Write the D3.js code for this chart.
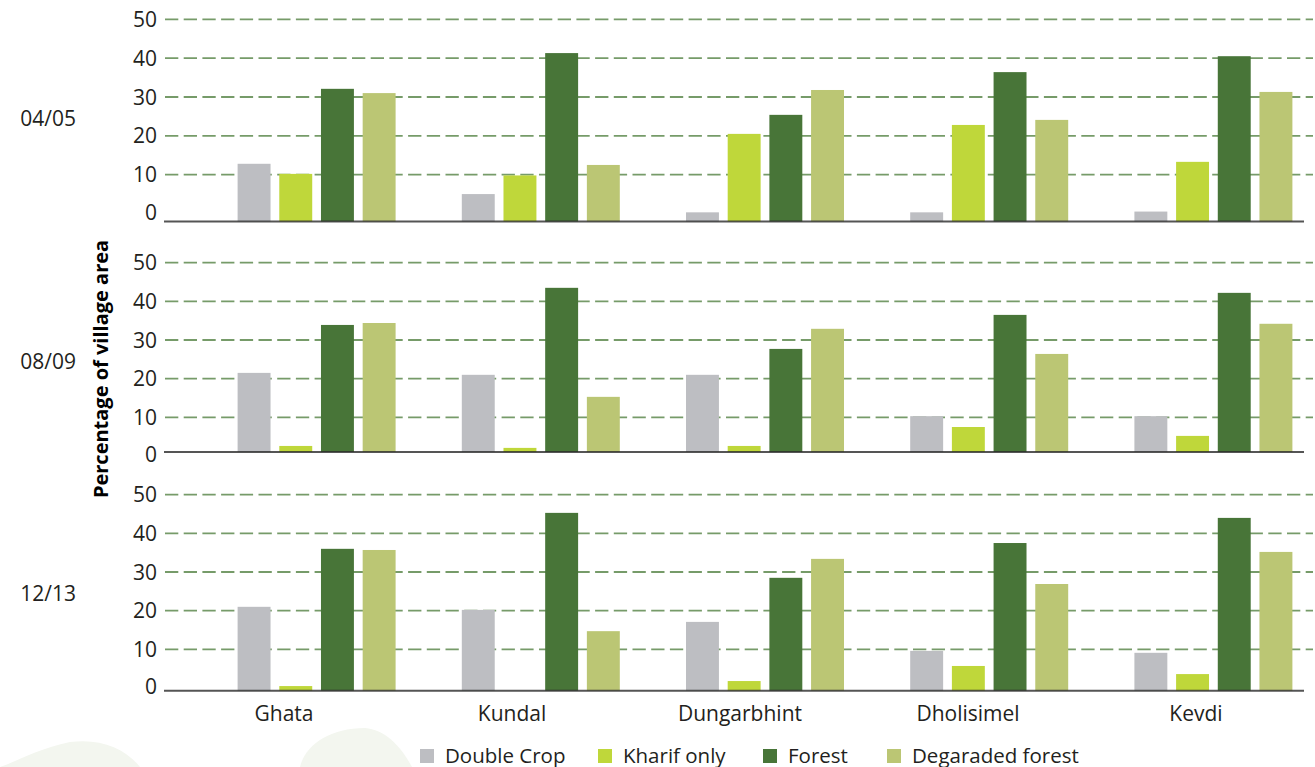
<!DOCTYPE html>
<html><head><meta charset="utf-8">
<script src="https://cdn.jsdelivr.net/npm/d3@7"></script>
<style>
body{margin:0;background:#fff;}
svg{display:block;font-family:'Open Sans',sans-serif;}
</style>
</head><body>
<svg id="chart" width="1315" height="767"></svg>
<script>
// ---- data ----
const villages = ["Ghata", "Kundal", "Dungarbhint", "Dholisimel", "Kevdi"];
const seriesNames = ["Double Crop", "Kharif only", "Forest", "Degaraded forest"];
const periods = ["04/05", "08/09", "12/13"];
const yTicks = [0, 10, 20, 30, 40, 50];

const doubleCrop0405 = [12.8, 5.0, 0.3, 0.3, 0.5];
const kharifOnly0405 = [10.2, 9.8, 20.5, 22.8, 13.3];
const forest0405     = [32.1, 41.3, 25.4, 36.4, 40.5];
const degraded0405   = [31.0, 12.5, 31.8, 24.1, 31.3];

const doubleCrop0809 = [21.5, 21.0, 21.0, 10.3, 10.3];
const kharifOnly0809 = [2.6, 2.1, 2.6, 7.5, 5.2];
const forest0809     = [33.9, 43.5, 27.7, 36.5, 42.2];
const degraded0809   = [34.4, 15.3, 32.9, 26.4, 34.2];

const doubleCrop1213 = [21.0, 20.2, 17.1, 9.6, 9.1];
const kharifOnly1213 = [0.5, 0, 1.8, 5.7, 3.6];
const forest1213     = [36.0, 45.3, 28.5, 37.5, 44.0];
const degraded1213   = [35.7, 14.7, 33.4, 26.9, 35.2];

const panelSeries = [
  [doubleCrop0405, kharifOnly0405, forest0405, degraded0405],
  [doubleCrop0809, kharifOnly0809, forest0809, degraded0809],
  [doubleCrop1213, kharifOnly1213, forest1213, degraded1213]
];

// ---- style / layout ----
const colors = ["#bdbec2", "#bfd73a", "#487538", "#bbc674"];
const panelLayout = [
  {zero: 213.5, top: 19.3, base: 221.5},
  {zero: 456.0, top: 262.7, base: 452.0},
  {zero: 688.0, top: 494.7, base: 690.7}
];
const legendX = [420, 598, 763, 887];
const textColor = "#231f20";

const svg = d3.select("#chart");

// faint decorative leaves at bottom-left
const bg = svg.append("g").attr("fill", "#f3f6ef");
bg.append("path").attr("d", "M0,767 C20,760 40,748 70,742 C100,738 125,748 140,767 Z");
bg.append("path").attr("d", "M300,767 C305,745 330,728 365,728 C385,730 400,745 412,767 Z");

const x0 = d3.scaleBand().domain(villages).range([204.5, 1325.5]);
const innerW = 158;
const x1 = d3.scaleBand().domain(seriesNames).range([0, innerW]).paddingInner(0.21).paddingOuter(0);
const xLabel = d3.scaleBand().domain(villages).range([170, 1310]);

const gridX0 = 165, gridX1 = 1313, baseX0 = 164, baseX1 = 1304;

panelLayout.forEach((p, pi) => {
  const y = d3.scaleLinear().domain([0, 50]).range([p.zero, p.top]);
  const g = svg.append("g");

  // gridlines
  g.append("g").selectAll("line").data(yTicks.filter(t => t > 0)).join("line")
    .attr("x1", gridX0).attr("x2", gridX1)
    .attr("y1", d => y(d)).attr("y2", d => y(d))
    .attr("stroke", "#5f8a4f").attr("stroke-width", 1.8)
    .attr("stroke-dasharray", "13.3 5.4").attr("opacity", 0.85);

  // tick labels
  g.append("g").selectAll("text").data(yTicks).join("text")
    .attr("x", 157).attr("y", d => d === 0 ? y(d) - 1.5 : y(d)).attr("dy", "0.36em")
    .attr("text-anchor", "end").attr("font-size", 21).attr("fill", textColor)
    .text(d => d);

  // panel label
  g.append("text").attr("x", 76).attr("y", y(25) + 2).attr("dy", "0.36em")
    .attr("text-anchor", "end").attr("font-size", 21).attr("fill", textColor)
    .text(periods[pi]);

  // bars
  const data = [];
  villages.forEach((v, vi) => {
    seriesNames.forEach((s, si) => {
      data.push({village: v, series: s, si: si, value: panelSeries[pi][si][vi]});
    });
  });
  g.append("g").selectAll("rect").data(data.filter(d => d.value > 0)).join("rect")
    .attr("x", d => x0(d.village) + (x0.bandwidth() - innerW) / 2 + x1(d.series))
    .attr("width", x1.bandwidth())
    .attr("y", d => Math.min(y(d.value), p.base - 2))
    .attr("height", d => Math.max(2, p.base - y(d.value)))
    .attr("fill", d => colors[d.si]);

  // baseline
  g.append("line").attr("x1", baseX0).attr("x2", baseX1)
    .attr("y1", p.base).attr("y2", p.base)
    .attr("stroke", "#2b2b2b").attr("stroke-width", 2).attr("opacity", 0.8);
});

// category labels
svg.append("g").selectAll("text").data(villages).join("text")
  .attr("x", d => xLabel(d) + xLabel.bandwidth() / 2).attr("y", 721)
  .attr("text-anchor", "middle").attr("font-size", 21).attr("fill", textColor)
  .text(d => d);

// y-axis title
svg.append("text")
  .attr("transform", "translate(108,369) rotate(-90)")
  .attr("text-anchor", "middle").attr("font-size", 20).attr("font-weight", 700)
  .attr("fill", "#000")
  .text("Percentage of village area");

// legend
const lg = svg.append("g").selectAll("g").data(seriesNames).join("g")
  .attr("transform", (d, i) => `translate(${legendX[i]},749)`);
lg.append("rect").attr("width", 14).attr("height", 14).attr("fill", (d, i) => colors[i]);
lg.append("text").attr("x", 25).attr("y", 13.5).attr("font-size", 20.5).attr("fill", textColor)
  .text(d => d);
</script>
</body></html>
